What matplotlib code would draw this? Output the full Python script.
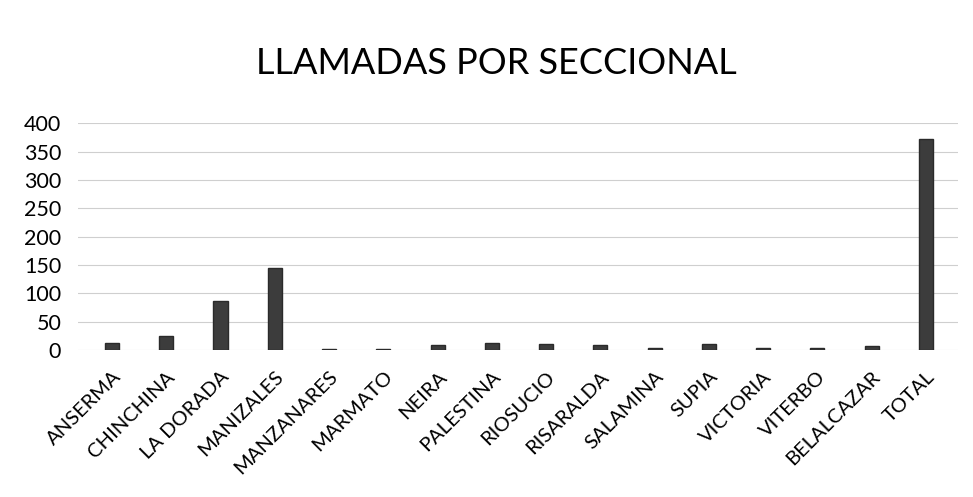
import numpy as np
import matplotlib.pyplot as plt

plt.rcParams['font.family'] = ['Lato', 'DejaVu Sans']

# Llamadas por seccional
seccionales = ['ANSERMA', 'CHINCHINA', 'LA DORADA', 'MANIZALES', 'MANZANARES',
               'MARMATO', 'NEIRA', 'PALESTINA', 'RIOSUCIO', 'RISARALDA',
               'SALAMINA', 'SUPIA', 'VICTORIA', 'VITERBO', 'BELALCAZAR', 'TOTAL']
llamadas = [12, 24, 86, 145, 2, 2, 8, 13, 11, 9, 3, 10, 4, 4, 6, 372]
yticks = [0, 50, 100, 150, 200, 250, 300, 350, 400]

fig = plt.figure(figsize=(9.73, 4.97), dpi=100)
ax = fig.add_axes([0.08, 0.296, 0.905, 0.456])

x = np.arange(len(seccionales))
ax.bar(x, llamadas, width=0.26, color='#3c3c3c', edgecolor='#2a2a2a', zorder=3)

ax.set_ylim(0, 400)
ax.set_xlim(-0.63, len(seccionales) - 0.4)
ax.set_yticks(yticks)
ax.tick_params(axis='y', labelsize=15.5, length=0, pad=12)
ax.grid(axis='y', color='#cfcfcf', linewidth=0.8, zorder=0)

ax.set_xticks(x)
ax.set_xticklabels(seccionales, rotation=45, ha='right', rotation_mode='anchor',
                   fontsize=14.5)
ax.tick_params(axis='x', length=0, pad=13)

for s in ax.spines.values():
    s.set_visible(False)

fig.suptitle('LLAMADAS POR SECCIONAL', fontsize=26, y=0.905, x=0.51)

fig.savefig('out.png', dpi=100)
